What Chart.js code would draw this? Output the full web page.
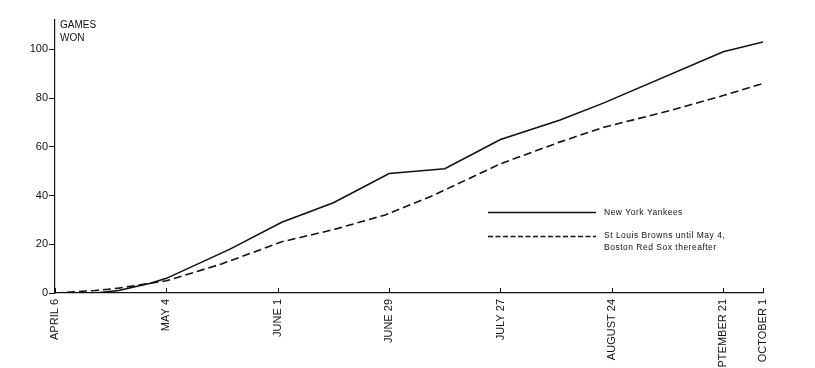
<!DOCTYPE html>
<html>
<head>
<meta charset="utf-8">
<script src="https://cdn.jsdelivr.net/npm/chart.js@4/dist/chart.umd.min.js"></script>
<style>
html,body{margin:0;padding:0;background:#fff;}
#wrap{width:815px;height:368px;position:relative;}
</style>
</head>
<body>
<div id="wrap"><canvas id="c" width="815" height="368"></canvas></div>
<script>
// Tick positions (days after April 6) and their labels
const tickDays = [0, 28, 56, 84, 112, 140, 168, 178];
const tickLabels = ["APRIL 6", "MAY 4", "JUNE 1", "JUNE 29", "JULY 27", "AUGUST 24", "SEPTEMBER 21", "OCTOBER 1"];
const yTicks = [0, 20, 40, 60, 80, 100];

// New York Yankees: cumulative games won
const yankeesDays = [0, 10, 16, 24, 28, 44, 57, 70, 84, 98, 112, 127, 138, 168, 178];
const yankeesWins = [0, 0, 1, 4, 6, 18, 29, 37, 49, 51, 63, 71, 78, 99, 103];

// St Louis Browns until May 4, Boston Red Sox thereafter
const rivalDays = [0, 10, 16, 24, 28, 42, 57, 70, 83, 95, 112, 127, 138, 155, 168, 178];
const rivalWins = [0, 1, 2, 4, 5, 12, 21, 26, 32, 40, 53, 62, 68, 75, 81, 86];

const seriesNames = ["New York Yankees", ["St Louis Browns until May 4,", "Boston Red Sox thereafter"]];
const axisTitle = ["GAMES", "WON"];

const toPoints = (xs, ys) => xs.map((x, i) => ({x: x, y: ys[i]}));

const SANS = "'Liberation Sans', Arial, Helvetica, sans-serif";
const INK = '#111';

const extras = {
  id: 'extras',
  afterDraw(chart) {
    const ctx = chart.ctx;
    const xs = chart.scales.x;
    const bottom = chart.chartArea.bottom;
    ctx.save();
    // inner tick marks on the x axis
    ctx.strokeStyle = INK;
    ctx.lineWidth = 1;
    tickDays.forEach(d => {
      const px = Math.round(xs.getPixelForValue(d)) + 0.5;
      ctx.beginPath();
      ctx.moveTo(px, bottom);
      ctx.lineTo(px, bottom - 5);
      ctx.stroke();
    });
    // axis title
    ctx.fillStyle = INK;
    ctx.font = "10px " + SANS;
    ctx.textBaseline = 'middle';
    ctx.textAlign = 'left';
    ctx.fillText(axisTitle[0], 60, 25);
    ctx.fillText(axisTitle[1], 60, 38);
    // legend
    ctx.lineWidth = 1.4;
    ctx.setLineDash([]);
    ctx.beginPath(); ctx.moveTo(488, 212.5); ctx.lineTo(596, 212.5); ctx.stroke();
    ctx.setLineDash([5, 2.5]);
    ctx.beginPath(); ctx.moveTo(488, 236.5); ctx.lineTo(596, 236.5); ctx.stroke();
    ctx.setLineDash([]);
    ctx.font = "8.5px " + SANS;
    if ('letterSpacing' in ctx) ctx.letterSpacing = '0.5px';
    ctx.fillText(seriesNames[0], 604, 213);
    ctx.fillText(seriesNames[1][0], 604, 236);
    ctx.fillText(seriesNames[1][1], 604, 248);
    ctx.restore();
  }
};

new Chart(document.getElementById('c'), {
  type: 'line',
  data: {
    datasets: [
      {
        label: "New York Yankees",
        data: toPoints(yankeesDays, yankeesWins),
        borderColor: INK, borderWidth: 1.6, pointRadius: 0, tension: 0, fill: false
      },
      {
        label: "St Louis Browns until May 4, Boston Red Sox thereafter",
        data: toPoints(rivalDays, rivalWins),
        borderColor: INK, borderWidth: 1.6, borderDash: [8, 4], pointRadius: 0, tension: 0, fill: false
      }
    ]
  },
  options: {
    responsive: false,
    animation: false,
    devicePixelRatio: 1,
    layout: {padding: {top: 20, right: 52, left: 0, bottom: 0}},
    plugins: {legend: {display: false}, tooltip: {enabled: false}},
    scales: {
      x: {
        type: 'linear', min: 0, max: 178,
        afterBuildTicks: s => { s.ticks = tickDays.map(v => ({value: v})); },
        afterFit: s => { s.height = 75; },
        ticks: {
          autoSkip: false, minRotation: 90, maxRotation: 90, padding: 6, color: INK,
          font: {family: SANS, size: 11},
          callback: v => tickLabels[tickDays.indexOf(v)]
        },
        grid: {display: true, drawOnChartArea: false, drawTicks: false},
        border: {color: INK, width: 1.2}
      },
      y: {
        min: 0, max: 112,
        afterBuildTicks: s => { s.ticks = yTicks.map(v => ({value: v})); },
        afterFit: s => { s.width = 55; },
        ticks: {padding: 1, color: INK, font: {family: SANS, size: 11}},
        grid: {drawOnChartArea: false, tickLength: 6, color: INK},
        border: {color: INK, width: 1.2}
      }
    }
  },
  plugins: [extras]
});
</script>
</body>
</html>
